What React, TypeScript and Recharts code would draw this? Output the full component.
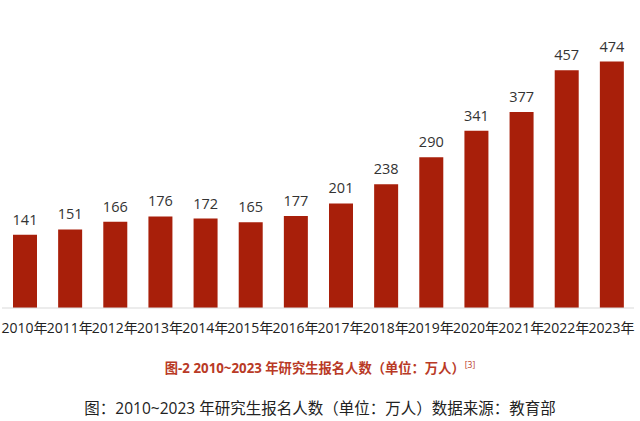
import { BarChart, Bar, XAxis, YAxis, LabelList } from "recharts";

const years = [
  "2010年", "2011年", "2012年", "2013年", "2014年", "2015年", "2016年",
  "2017年", "2018年", "2019年", "2020年", "2021年", "2022年", "2023年",
];
const applicants = [141, 151, 166, 176, 172, 165, 177, 201, 238, 290, 341, 377, 457, 474];

const chartData = years.map((year, i) => ({ year, value: applicants[i] }));

const FONT = "'Open Sans', 'Noto Sans CJK SC', sans-serif";

export default function App() {
  return (
    <div style={{ position: "absolute", left: 0, top: 0, width: 640, height: 421, background: "#fff", fontFamily: FONT }}>
      <BarChart
        width={640}
        height={345}
        data={chartData}
        margin={{ top: 48, right: 6, left: 2, bottom: 0 }}
      >
        <XAxis
          dataKey="year"
          interval={0}
          tickLine={false}
          axisLine={{ stroke: "#d9d9d9" }}
          tick={{ fontSize: 14, fill: "#222", fontFamily: FONT }}
          tickMargin={9}
          height={37}
        />
        <YAxis hide domain={[0, 500]} />
        <Bar dataKey="value" fill="#a81f0a" barSize={24} isAnimationActive={false}>
          <LabelList dataKey="value" position="top" offset={10} fill="#333" fontSize={14.5} fontFamily={FONT} />
        </Bar>
      </BarChart>
      <div
        style={{
          position: "absolute",
          top: 358,
          left: 0,
          width: 640,
          textAlign: "center",
          fontSize: 13.3,
          fontWeight: 700,
          color: "#b93a26",
          fontFamily: FONT,
        }}
      >
        图-2 2010~2023 年研究生报名人数（单位：万人）<sup style={{ fontSize: 8.5, fontWeight: 400 }}>[3]</sup>
      </div>
      <div
        style={{
          position: "absolute",
          top: 396,
          left: 0,
          width: 640,
          textAlign: "center",
          fontSize: 15.5,
          color: "#222",
          fontFamily: FONT,
        }}
      >
        图：2010~2023 年研究生报名人数（单位：万人）数据来源：教育部
      </div>
    </div>
  );
}
